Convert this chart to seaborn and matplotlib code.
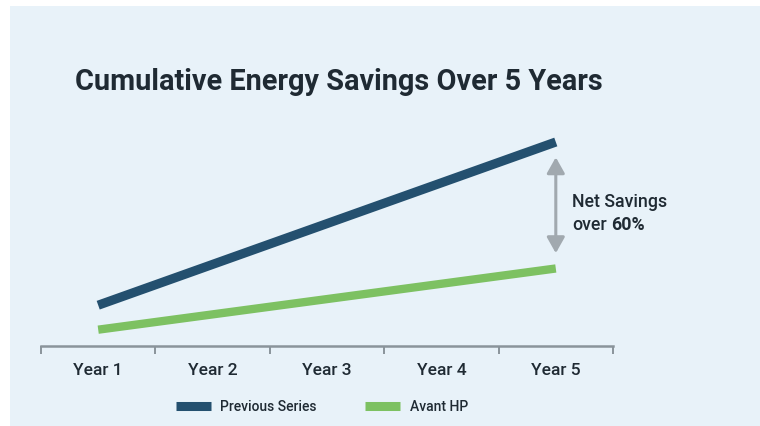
import matplotlib.pyplot as plt
import pandas as pd
import seaborn as sns
from matplotlib.patches import Rectangle
from matplotlib.lines import Line2D

YEARS = ["Year 1", "Year 2", "Year 3", "Year 4", "Year 5"]
PREVIOUS = [20, 40, 60, 80, 100]
AVANT = [8, 15.5, 23, 30.5, 38]
SERIES = ["Previous Series", "Avant HP"]
COLORS = {"Previous Series": "#24506f", "Avant HP": "#7dc162"}

PANEL = "#e8f2f9"
TEXT = "#1f2a33"
AXIS_GRAY = "#8a949b"
ARROW_GRAY = "#a1a9af"

sns.set_theme(style="white")
plt.rcParams["font.family"] = ["Roboto", "DejaVu Sans"]

df = pd.DataFrame({
    "year": YEARS * 2,
    "x": list(range(len(YEARS))) * 2,
    "value": PREVIOUS + AVANT,
    "series": [SERIES[0]] * len(YEARS) + [SERIES[1]] * len(YEARS),
})

fig = plt.figure(figsize=(7.6, 4.26), dpi=100)
fig.patch.set_facecolor("white")
fig.patches.append(Rectangle((10 / 760, 0), 1, 1 - 6 / 426, transform=fig.transFigure,
                             facecolor=PANEL, edgecolor="none", zorder=-5))

ax = fig.add_axes([41 / 760, 80 / 426, 572 / 760, 224.4 / 426])
ax.set_zorder(2)
ax.set_facecolor("none")
sns.lineplot(data=df, x="x", y="value", hue="series", palette=COLORS, ax=ax,
             legend=False, solid_capstyle="butt")
for line, lw in zip(ax.lines, [6.6, 6.0]):
    line.set_linewidth(lw)

ax.set_xlim(-0.5, 4.5)
ax.set_ylim(0, 110)
ax.set_xlabel("")
ax.set_ylabel("")
ax.set_yticks([])
for side in ["top", "right", "left"]:
    ax.spines[side].set_visible(False)
ax.spines["bottom"].set_color(AXIS_GRAY)
ax.spines["bottom"].set_linewidth(1.8)

# boundary ticks, labels in the middle of each category
ax.set_xticks([i - 0.5 for i in range(len(YEARS) + 1)])
ax.set_xticklabels([])
ax.tick_params(axis="x", which="major", direction="out", length=5.5, width=1.4,
               color=AXIS_GRAY, bottom=True)
ax.set_xticks(range(len(YEARS)), minor=True)
ax.set_xticklabels(YEARS, minor=True)
ax.tick_params(axis="x", which="minor", length=0, pad=12, labelsize=12.5,
               labelcolor=TEXT)
for lbl in ax.get_xticklabels(minor=True):
    lbl.set_fontweight("medium")

# net savings arrow
ax.annotate("", xy=(4, AVANT[-1] + 7.5), xytext=(4, PREVIOUS[-1] - 7.5),
            arrowprops=dict(arrowstyle="<|-|>,head_length=0.8,head_width=0.45",
                            color=ARROW_GRAY, lw=2.2, shrinkA=0, shrinkB=0))
ax.text(4.14, 70.5, "Net Savings", fontsize=12.8, color=TEXT, va="center", ha="left",
        fontweight="medium")
over = ax.text(4.14, 59.5, "over", fontsize=12.8, color=TEXT, va="center", ha="left",
               fontweight="medium")
ax.annotate("60%", xy=(1, 0.5), xycoords=over, xytext=(3.5, 0), textcoords="offset points",
            fontsize=12.8, color=TEXT, va="center", ha="left", fontweight="bold")

fig.text(75 / 760, 1 - 82 / 426, "Cumulative Energy Savings Over 5 Years",
         fontsize=20.8, fontweight="bold", color=TEXT, va="center", ha="left")

handles = [Line2D([], [], color=COLORS[s], lw=6.5, solid_capstyle="butt") for s in SERIES]
leg = fig.legend(handles, SERIES, loc="center", bbox_to_anchor=(322 / 760, 1 - 407 / 426),
                 ncol=2, frameon=False, fontsize=10, handlelength=2.5, columnspacing=3.5,
                 handletextpad=0.7, labelcolor=TEXT)
for t in leg.get_texts():
    t.set_fontweight("medium")

fig.savefig("out.png", dpi=100, facecolor=fig.get_facecolor())
